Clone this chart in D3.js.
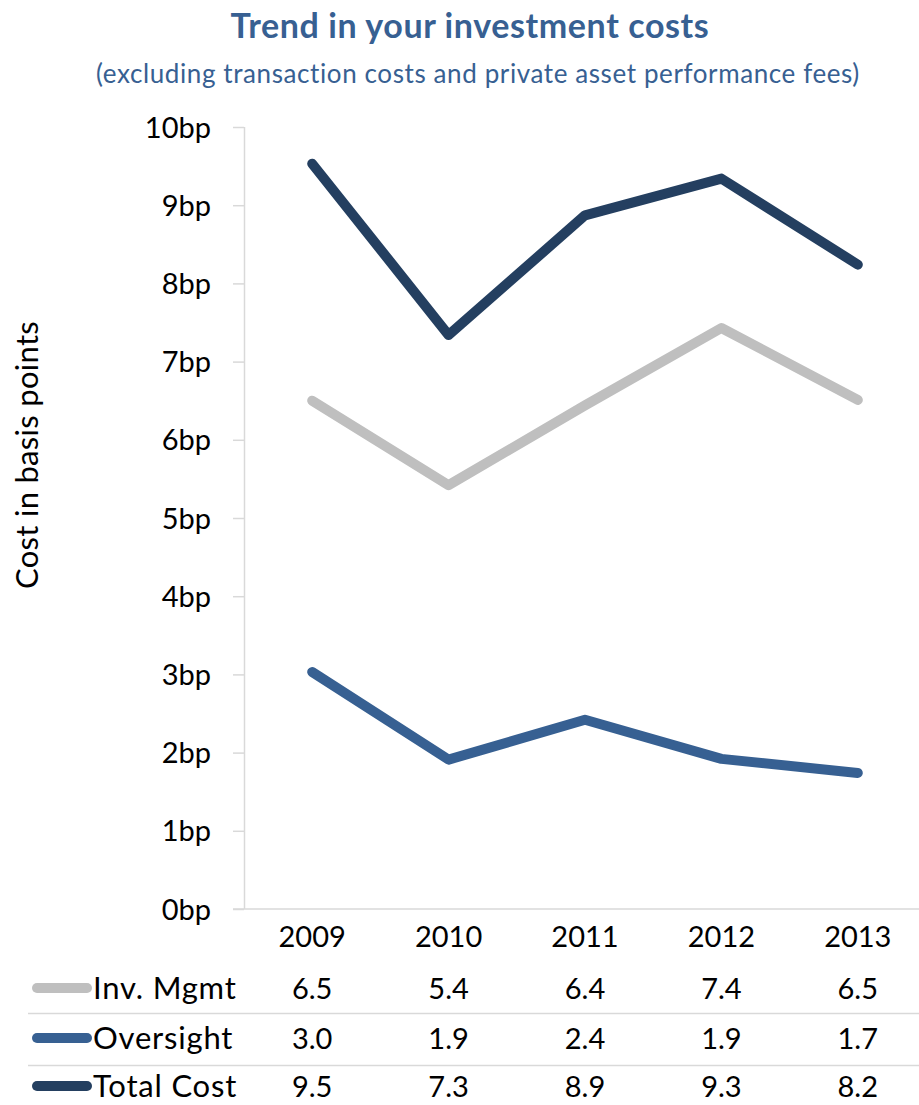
<!DOCTYPE html>
<html>
<head>
<meta charset="utf-8">
<script src="https://cdn.jsdelivr.net/npm/d3@7"></script>
<style>
  html, body { margin: 0; padding: 0; background: #fff; }
  svg { display: block; font-family: Lato, "Open Sans", sans-serif; }
</style>
</head>
<body>
<svg id="chart" width="919" height="1105"></svg>
<script>
// Years along the x axis
const years = ["2009", "2010", "2011", "2012", "2013"];

// Cost per year, in basis points
const invMgmt   = [6.50, 5.42, 6.44, 7.43, 6.51];
const oversight = [3.03, 1.91, 2.42, 1.92, 1.74];
const totalCost = [9.53, 7.34, 8.87, 9.34, 8.24];

// Series names, in table order
const seriesNames = ["Inv. Mgmt", "Oversight", "Total Cost"];

// Y tick values
const yTicks = [0, 1, 2, 3, 4, 5, 6, 7, 8, 9, 10];

const colors = { "Inv. Mgmt": "#bfbfbf", "Oversight": "#376092", "Total Cost": "#243f60" };

const series = [
  { name: seriesNames[0], values: invMgmt },
  { name: seriesNames[1], values: oversight },
  { name: seriesNames[2], values: totalCost }
];

const svg = d3.select("#chart");

const x = d3.scalePoint().domain(years).range([244, 926]).padding(0.5);
const y = d3.scaleLinear().domain([0, 10]).range([909, 127]);

// Titles
svg.append("text")
  .attr("x", 470).attr("y", 38)
  .attr("text-anchor", "middle")
  .attr("font-weight", "bold")
  .attr("font-size", 34)
  .attr("letter-spacing", 0.6)
  .attr("fill", "#376092")
  .text("Trend in your investment costs");

svg.append("text")
  .attr("x", 478).attr("y", 83)
  .attr("text-anchor", "middle")
  .attr("font-size", 26)
  .attr("letter-spacing", 0.6)
  .attr("fill", "#376092")
  .text("(excluding transaction costs and private asset performance fees)");

// Y axis
const yAxis = svg.append("g")
  .attr("transform", "translate(244,0)")
  .call(d3.axisLeft(y).tickValues(yTicks).tickSize(11).tickPadding(22).tickFormat(d => d + "bp"));
yAxis.selectAll("path, line").attr("stroke", "#d9d9d9").attr("stroke-width", 1.5);
yAxis.select(".domain").attr("d", "M0.5,127V909");
yAxis.selectAll("text").attr("font-size", 29).attr("fill", "#000").attr("font-family", "Lato, sans-serif").attr("dy", "0.35em");

// X axis baseline
svg.append("line")
  .attr("x1", 233).attr("x2", 919)
  .attr("y1", y(0)).attr("y2", y(0))
  .attr("stroke", "#d9d9d9").attr("stroke-width", 1.5);

// Year labels
svg.append("g").selectAll("text")
  .data(years).join("text")
  .attr("x", d => x(d)).attr("y", 947)
  .attr("text-anchor", "middle")
  .attr("font-size", 29)
  .text(d => d);

// Y axis title
svg.append("text")
  .attr("transform", "translate(38,455) rotate(-90)")
  .attr("text-anchor", "middle")
  .attr("font-size", 31)
  .attr("letter-spacing", 0.3)
  .text("Cost in basis points");

// Lines
const line = d3.line().x((d, i) => x(years[i])).y(d => y(d));
svg.append("g").selectAll("path")
  .data(series).join("path")
  .attr("d", d => line(d.values))
  .attr("fill", "none")
  .attr("stroke", d => colors[d.name])
  .attr("stroke-width", 10)
  .attr("stroke-linecap", "round")
  .attr("stroke-linejoin", "round");

// Data table below the chart
const rowBase = [999, 1049, 1097];
const table = svg.append("g");
series.forEach((s, r) => {
  const by = rowBase[r];
  table.append("line")
    .attr("x1", 37).attr("x2", 87)
    .attr("y1", by - 11).attr("y2", by - 11)
    .attr("stroke", colors[s.name])
    .attr("stroke-width", 10)
    .attr("stroke-linecap", "round");
  table.append("text")
    .attr("x", 93).attr("y", by)
    .attr("font-size", 31)
    .attr("letter-spacing", 0.8)
    .text(s.name);
  table.selectAll(null)
    .data(s.values).join("text")
    .attr("x", (d, i) => x(years[i])).attr("y", by)
    .attr("text-anchor", "middle")
    .attr("font-size", 29)
    .text(d => d.toFixed(1));
});
[1013.5, 1065.5].forEach(ly => {
  table.append("line")
    .attr("x1", 28).attr("x2", 919)
    .attr("y1", ly).attr("y2", ly)
    .attr("stroke", "#d9d9d9").attr("stroke-width", 1.5);
});
</script>
</body>
</html>
